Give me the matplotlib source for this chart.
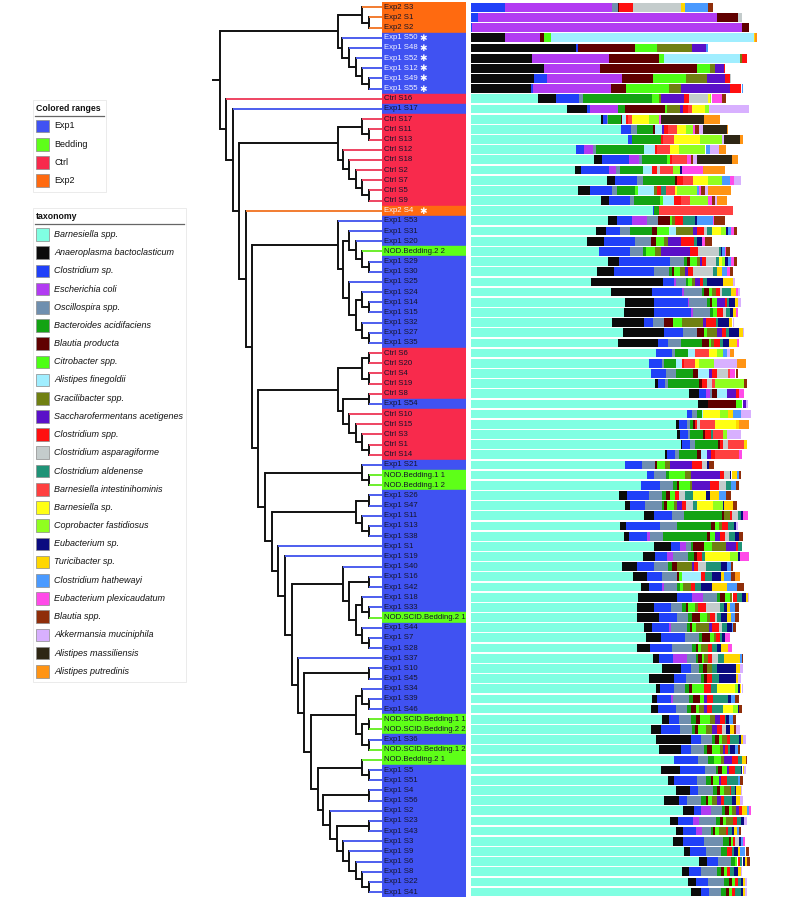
import matplotlib
matplotlib.use("Agg")
import numpy as np
import matplotlib.pyplot as plt
from matplotlib.patches import Rectangle

W, H = 791, 899
plt.rcParams["font.family"] = ["Liberation Sans", "DejaVu Sans"]

# taxa in stacking order (legend order)
taxa_codes = ["bar", "ana", "csp", "eco", "osc", "bac", "bpr", "cit", "afi", "gra", "sac", "cls", "cas",
              "cal", "bin", "bsp", "cop", "eub", "tur", "cha", "epl", "bla", "akk", "ama", "apu"]
taxa_names = ["Barnesiella spp.", "Anaeroplasma bactoclasticum", "Clostridium sp.", "Escherichia coli",
              "Oscillospira spp.", "Bacteroides acidifaciens", "Blautia producta", "Citrobacter spp.",
              "Alistipes finegoldii", "Gracilibacter spp.", "Saccharofermentans acetigenes", "Clostridium spp.",
              "Clostridium asparagiforme", "Clostridium aldenense", "Barnesiella intestinihominis",
              "Barnesiella sp.", "Coprobacter fastidiosus", "Eubacterium sp.", "Turicibacter sp.",
              "Clostridium hathewayi", "Eubacterium plexicaudatum", "Blautia spp.", "Akkermansia muciniphila",
              "Alistipes massiliensis", "Alistipes putredinis"]
taxa_colors = ["#80FFE2", "#0B0B0B", "#2040F8", "#B23BF2", "#6F8FAF", "#13A313", "#600000", "#4DFF14",
               "#A0EEFF", "#708012", "#5A10C8", "#FF1010", "#C4CCCC", "#1F9377", "#FF4040", "#FFFF14",
               "#90FF20", "#0A0A80", "#FFD700", "#4A9AFF", "#FF4AE8", "#8F2E0A", "#D8B0FF", "#2E2614",
               "#FF9414"]

group_names = ["Exp1", "Bedding", "Ctrl", "Exp2"]
group_colors = ["#4052F2", "#5EFF18", "#F82A4C", "#FF6A10"]
branch_colors = ["#4D5EEE", "#6CEE2C", "#EE4462", "#F27C30"]

samples = ["Exp2 S3", "Exp2 S1", "Exp2 S2", "Exp1 S50", "Exp1 S48", "Exp1 S52", "Exp1 S12", "Exp1 S49",
           "Exp1 S55", "Ctrl S16", "Exp1 S17", "Ctrl S17", "Ctrl S11", "Ctrl S13", "Ctrl S12", "Ctrl S18",
           "Ctrl S2", "Ctrl S7", "Ctrl S5", "Ctrl S9", "Exp2 S4", "Exp1 S53", "Exp1 S31", "Exp1 S20",
           "NOD.Bedding.2 2", "Exp1 S29", "Exp1 S30", "Exp1 S25", "Exp1 S24", "Exp1 S14", "Exp1 S15",
           "Exp1 S32", "Exp1 S27", "Exp1 S35", "Ctrl S6", "Ctrl S20", "Ctrl S4", "Ctrl S19", "Ctrl S8",
           "Exp1 S54", "Ctrl S10", "Ctrl S15", "Ctrl S3", "Ctrl S1", "Ctrl S14", "Exp1 S21",
           "NOD.Bedding.1 1", "NOD.Bedding.1 2", "Exp1 S26", "Exp1 S47", "Exp1 S11", "Exp1 S13", "Exp1 S38",
           "Exp1 S1", "Exp1 S19", "Exp1 S40", "Exp1 S16", "Exp1 S42", "Exp1 S18", "Exp1 S33",
           "NOD.SCID.Bedding.2 1", "Exp1 S44", "Exp1 S7", "Exp1 S28", "Exp1 S37", "Exp1 S10", "Exp1 S45",
           "Exp1 S34", "Exp1 S39", "Exp1 S46", "NOD.SCID.Bedding.1 1", "NOD.SCID.Bedding.2 2", "Exp1 S36",
           "NOD.SCID.Bedding.1 2", "NOD.Bedding.2 1", "Exp1 S5", "Exp1 S51", "Exp1 S4", "Exp1 S56", "Exp1 S2",
           "Exp1 S23", "Exp1 S43", "Exp1 S3", "Exp1 S9", "Exp1 S6", "Exp1 S8", "Exp1 S22", "Exp1 S41"]
starred = ["Exp1 S50", "Exp1 S48", "Exp1 S52", "Exp1 S12", "Exp1 S49", "Exp1 S55", "Exp2 S4"]

# abundance per sample, bar axis units (full width ~290 = 100 %)
composition = [
    dict(csp=34, eco=107, osc=6, bpr=1.3, cls=14.3, cas=48, tur=4, cha=22.7, bla=5),
    dict(csp=7.7, eco=239, bpr=21, cas=3.3),
    dict(csp=1.3, eco=270, bpr=7.7),
    dict(ana=34.3, eco=35, bpr=4.3, cit=7.3, afi=202.7, tur=1.3, apu=1.7),
    dict(ana=105.3, csp=2.3, bpr=57.3, cit=21.7, gra=35.3, sac=13.3, cha=2.3),
    dict(ana=61.7, eco=76.7, bpr=50, cit=4.7, afi=76.7, gra=1.3, cls=5),
    dict(ana=73, eco=56.3, bpr=97.3, cit=12.7, gra=5, sac=9.3, cls=1.3),
    dict(ana=63.7, csp=12.3, eco=75, bpr=31, cit=33, gra=21.7, sac=17.7, cls=5, cas=1),
    dict(ana=60.3, csp=1.7, eco=78, bpr=15, cit=43.3, gra=11.7, sac=49.3, cls=11.7, cha=1.3),
    dict(bar=67, ana=18.3, csp=23, osc=4.3, bac=69.3, cit=6.7, gra=2.3, sac=22.7, cls=5, cas=19, bsp=1.7,
         cop=1.7, epl=10.7, bla=4.3),
    dict(bar=96, ana=20.7, csp=2.7, eco=28.3, bac=6.7, bpr=40, cit=2.3, gra=12.7, sac=3.3, cls=4.3, bin=4.7,
         bsp=12.7, cop=4.3, akk=40),
    dict(bar=130.3, ana=2.3, csp=4, osc=1, bac=12.7, bpr=1.3, afi=3.7, cls=2.3, bin=4.3, bsp=16.3, cop=10,
         epl=2.7, ama=42.3, apu=16.7),
    dict(bar=150.3, csp=10, osc=6.3, bac=16, bpr=1.7, afi=6.7, sac=2.7, cls=4, bin=8.3, bsp=9.3, cop=7.3,
         epl=2, bla=3.7, akk=4, ama=24.3, apu=1.3),
    dict(bar=157.7, csp=3.3, bac=29.3, cls=2.3, bin=11, bsp=26.3, cop=21.7, akk=1.7, ama=16, apu=3.7),
    dict(bar=105.3, csp=8.3, eco=9, osc=3.3, bac=47.7, afi=11.3, cls=1.7, bin=12.7, bsp=9, cop=26.7, cha=4.3,
         akk=9.3, apu=6.7),
    dict(bar=123.7, ana=7.7, csp=27, eco=10, osc=3.3, bac=25, cit=2.7, cls=1.7, bin=15, epl=4.3, bla=2.3,
         akk=4, ama=34.3, apu=6),
    dict(bar=104.3, ana=5.7, csp=28.3, eco=7, osc=4, bac=22.7, afi=9.7, cls=5, cas=2.7, bin=12.7, cop=7.3,
         eub=1.7, epl=21.7, apu=21.7),
    dict(bar=136.7, ana=7.7, csp=21.7, osc=6, bac=32.3, bpr=2.3, cls=6, bin=9.3, bsp=15, cop=14, cha=8.3,
         epl=4.3, akk=6.7),
    dict(bar=107, ana=12.3, csp=21.7, osc=5, bac=18.3, cit=3.3, afi=15.7, gra=3.3, cls=4.3, cal=5, bin=9,
         bsp=2, cop=19.7, cha=2, epl=2.3, bla=3.3, akk=3.3, apu=23.3),
    dict(bar=130.3, ana=8.3, csp=20.7, osc=4, bac=26, cit=3.3, afi=11, cls=7.3, bin=9, cop=17.7, epl=4,
         bla=3.3, akk=1.7, apu=10),
    dict(bar=182, csp=1.7, bac=5, bin=74),
    dict(bar=137.7, ana=8.3, csp=15.7, eco=15, osc=10.3, bpr=12.3, cit=2.3, gra=3.3, cls=7.7, cal=11.7,
         eub=1.7, cha=16.7, epl=1, bla=10.7),
    dict(bar=125, ana=10, csp=14.3, osc=10, bac=21.7, bpr=5, cit=12.3, afi=6.7, gra=17.7, sac=3.3, cls=7.3,
         cas=3.3, cal=5, bsp=8.7, cop=5, eub=2.3, cha=3.3, epl=2.7, bla=3.3),
    dict(bar=116.3, ana=17, csp=31, osc=16, bpr=4.7, cit=8.3, gra=3.7, sac=13.3, cls=13, cal=3.3, eub=5,
         epl=3.3, bla=6.7),
    dict(bar=128.3, csp=31, osc=13.3, bac=3.3, cit=8.3, gra=6.7, sac=28.3, cls=8.3, cas=20.7, cal=2, eub=1.3,
         cha=2.7, epl=1.7, bla=3.3),
    dict(bar=137, ana=11.7, csp=50.7, osc=14.3, bac=2.3, bpr=3.3, cit=7.3, gra=2.7, sac=1.7, cls=4, cas=10,
         cal=3.7, bsp=2.3, cop=3.3, eub=2.7, cha=3, epl=3.7, bla=2.3),
    dict(bar=126.7, ana=17, csp=40, osc=14.7, bac=2.7, bpr=2.7, cit=5.7, gra=5, sac=2.7, cls=5, cas=20,
         cal=4, tur=5, cha=5, epl=3.3, bla=2.7),
    dict(bar=120, ana=72.7, csp=11, eco=1.3, osc=10, bac=2.7, cit=3.3, gra=3.3, sac=5, cls=3.3, cal=4,
         eub=16, tur=10, akk=2.3),
    dict(bar=140.3, ana=40.7, csp=30, eco=2.3, osc=17.7, bac=2.7, bpr=5, cit=2.3, gra=4.3, cls=4, cas=2.3,
         cal=9.3, tur=5, epl=1.7, akk=1.7),
    dict(bar=154.3, ana=29, csp=33.7, eco=1.7, osc=18, bac=2.7, bpr=1.7, cit=5, sac=8.3, cls=2.3, cal=2,
         eub=5.7, tur=2.7, akk=3),
    dict(bar=153.7, ana=29.7, csp=37, eco=2.3, osc=16.7, bac=3.3, cit=4, cls=5.3, cas=3.3, cal=4, eub=3.3,
         tur=2.7, epl=2.3),
    dict(bar=141, ana=32.3, csp=8.7, osc=11.3, bpr=8.7, cit=9, gra=21, sac=3.3, cls=10, cal=2.3, eub=10.7,
         tur=3.7, akk=1.7),
    dict(bar=152.7, ana=41, csp=18.3, osc=14.7, bpr=6.7, cit=3.3, gra=9.3, sac=5, cls=4.3, cal=3.3, eub=10,
         tur=4, akk=1),
    dict(bar=147, ana=40, csp=10, osc=13, bac=21, bpr=7.3, cit=2, gra=3, cls=6, cal=2.7, eub=6.7, tur=7.3,
         epl=2.7),
    dict(bar=185, csp=16.7, osc=2.7, bac=12.7, afi=7.3, bin=14.3, bsp=8, cop=6, cha=3.3, akk=3.3, apu=4),
    dict(bar=178.7, csp=12.3, osc=2.3, bac=12, afi=5.7, cls=2.7, bin=10.7, bsp=4.3, cop=15, akk=22.3,
         apu=9.3),
    dict(bar=180, csp=15.3, osc=9.7, bac=17, bpr=5.7, afi=11, sac=3, cls=4.3, cas=11, bin=2.3, epl=5.7,
         bla=2),
    dict(bar=184.3, ana=3.3, csp=6.7, osc=3.3, bac=30.7, bpr=2.7, cls=5.7, cas=5, bin=2.7, cop=29.3, bla=2.3),
    dict(bar=218.7, ana=9.7, csp=7, eco=4, osc=2.3, bpr=5, afi=10, sac=8.7, cls=3, epl=5),
    dict(bar=227.7, ana=9.3, bpr=28.3, cit=6.7, sac=3.3, akk=2.3),
    dict(bar=216, csp=5.7, osc=5, bac=4.3, afi=1.7, bsp=16.7, cop=8.3, tur=5, cha=7.7, akk=10),
    dict(bar=205, ana=3.7, csp=7.3, osc=3.3, bac=3.3, bpr=1.7, cls=1.7, cas=3, bin=15.7, bsp=20.3, tur=3.3,
         apu=10),
    dict(bar=206, ana=3.3, csp=8.3, osc=1.7, bac=13.3, bpr=1.7, cls=5.7, cal=2.7, bin=10, cop=3.3, akk=14.3),
    dict(bar=210, ana=1.7, csp=7.7, osc=5, bac=22.7, bpr=2.3, cls=3.3, cas=4.3, bin=16.7, tur=2.3),
    dict(bar=194.3, ana=2.3, csp=8.3, osc=3.3, bac=18.7, bpr=4, afi=5.7, sac=4.3, cls=4, bin=23.7, epl=3),
    dict(bar=154.3, csp=17.3, osc=12.7, bpr=2.3, cit=7.7, gra=5, sac=21.7, cls=10.7, cas=4.3, eub=2.3,
         bla=5.3),
    dict(bar=176, csp=7.3, osc=12, bac=3.3, cit=15.7, gra=5.7, sac=29.3, cls=4.3, cas=5.7, eub=1.7, tur=5,
         cha=2.3, bla=2),
    dict(bar=170, csp=19.3, osc=13.3, bac=4, bpr=2, cit=11.3, gra=2, sac=18, cls=8.3, cas=7.7, cal=5, cha=5,
         bla=2.7),
    dict(bar=148.7, ana=8, csp=22, osc=13, bac=3.7, bpr=4, cit=5, cls=4, cas=6, cal=7.7, bsp=13.3, eub=4,
         tur=9, cha=6.7, bla=5.3),
    dict(bar=154.3, ana=5, csp=15, osc=16.7, bac=2.7, bpr=3, cit=6.7, gra=3.3, sac=4.3, cls=4, cas=7.7,
         cal=4, bsp=16, cop=9.3, eub=1.3, tur=8.7, bla=4),
    dict(bar=173.3, ana=10.3, csp=18, osc=11.7, bac=37.7, bpr=2.7, gra=5.7, cls=2, cas=5.7, cal=3.3,
         eub=2.3, epl=4.3),
    dict(bar=149.3, ana=6, csp=34, osc=17.3, bac=34.3, bpr=3.3, cit=4.3, gra=3.3, cls=5.7, cal=6, eub=1.7,
         akk=2.3),
    dict(bar=153.3, ana=5, csp=17.7, eco=3.3, osc=12.7, bac=44.7, bpr=2.7, cit=5, sac=5, cls=5, cas=4.3,
         cal=5.7, eub=4, bla=3.7),
    dict(bar=183.7, ana=16.7, csp=9, eco=5.7, osc=5, bac=2, bpr=11.7, cit=8, gra=13.7, sac=9.7, cls=2.7,
         cal=3.3),
    dict(bar=172, ana=12.3, csp=12.3, eco=6, osc=15, bac=6, bpr=3, cls=5, cal=3.3, bsp=25, cop=7.7, eub=2.3,
         epl=8.3),
    dict(bar=151.7, ana=15, csp=16.7, osc=14.3, bac=4, bpr=5, gra=15, sac=1.7, cls=4.3, cas=7.7, cal=15,
         eub=6.3, cha=3.3, bla=2.7),
    dict(bar=162.7, ana=13.3, csp=15.7, osc=14.3, bpr=2.3, cit=2.7, afi=19, cls=4.3, cal=6.7, eub=9, tur=3.7,
         cha=6.3, bla=4.3, apu=5.7),
    dict(bar=170, ana=8.7, csp=12.3, eco=2.3, osc=13.3, bac=2.7, cit=3.3, gra=8.3, cls=4, cal=5.3, eub=11.3,
         tur=15, cha=10, bla=7),
    dict(bar=167, ana=39, csp=15, eco=11, osc=14, bac=3.3, bpr=5, cit=5, gra=2.7, cls=4, cal=5, eub=4.3,
         tur=2.3, akk=1),
    dict(bar=166.7, ana=16.7, csp=17, osc=10.7, bac=4, bpr=2, cit=7.3, gra=3.3, cls=7.3, cas=14.3, cal=4,
         eub=3.3, tur=3.3, cha=4.3, bla=4),
    dict(bar=166, ana=22.3, csp=17.7, osc=11, bac=4, bpr=8.3, cit=7.3, gra=2.7, cls=5, cas=2.3, cal=4.3,
         eub=5.7, tur=4.3, cha=4, bla=3.7),
    dict(bar=173.3, ana=8.3, csp=17, eco=1.7, osc=15.7, bac=3.3, bpr=2.3, cit=3.7, gra=13.3, sac=3, cls=6.7,
         cas=2.7, cal=5.7, eub=4.3, cha=1.7, bla=2.3),
    dict(bar=175, ana=15.3, csp=24, osc=14.3, bac=3.3, bpr=7.3, cit=4.3, gra=1.7, cls=4, cal=2.3, eub=2.7,
         epl=5.7),
    dict(bar=166, ana=13.3, csp=21.7, osc=20, bac=4.3, bpr=1.7, cit=3.3, gra=6.7, cls=4, cal=5.7, eub=3.7,
         tur=7.3, epl=3.3),
    dict(bar=182.7, ana=6, csp=14, eco=13.3, osc=9, bac=2.7, bpr=3.3, cit=2.7, gra=4, cls=3.3, cas=6.7,
         cal=6, tur=15.7, cha=1.7, bla=1.7),
    dict(bar=191.7, ana=18.7, csp=9.7, osc=8.7, bac=3.3, bpr=4.7, gra=4.3, cal=5, eub=19, tur=4.3, akk=2.7),
    dict(bar=178.7, ana=25, csp=11.7, osc=14.7, bac=3.7, bpr=3, cls=5, cal=6.7, eub=17, tur=2.3, akk=2.3),
    dict(bar=185.3, ana=4, csp=14.3, osc=10.7, bac=4, bpr=3.3, cit=12, cls=7.3, cal=5.7, bsp=18.3, cop=2.7,
         eub=1.7, tur=1.7, akk=1.7),
    dict(bar=181, ana=5.7, csp=13.3, eco=2.7, osc=15.7, bac=4.3, bpr=6.7, cit=4.3, sac=2.3, cls=6.7, cal=15,
         eub=2.3, cha=4.3, bla=4.3),
    dict(bar=180, ana=7.7, csp=17.3, osc=11, bac=4, bpr=5, cit=3.7, gra=5, sac=2.3, cls=5, cal=11.7, bsp=10,
         cop=4.3, eub=1.7, bla=2.3),
    dict(bar=191, ana=7.3, csp=10.3, osc=12.3, bac=4.3, bpr=4, cit=10, gra=5, sac=5, cls=5, cal=1.7, eub=2.3,
         cha=4.3, bla=3.3),
    dict(bar=180.3, ana=9.7, csp=19.3, osc=11.7, bac=3.3, bpr=3.3, cit=8.3, gra=5.7, sac=5.3, cls=4.7,
         cas=4.3, eub=3.3, tur=4, bla=2.3, akk=3.7),
    dict(bar=185.3, ana=34.7, csp=10, osc=11.7, bac=2.7, bpr=4, cit=2.7, gra=5, cls=3.3, cal=9, eub=1.7,
         tur=2, akk=3.3),
    dict(bar=188.7, ana=21.7, csp=10, osc=13.3, bac=3, bpr=4.3, cit=8.3, gra=3.3, sac=2.3, cls=2.7, cal=2.3,
         eub=4.3, cha=3.3, bla=2.3),
    dict(bar=203.7, csp=23.3, osc=10, bac=6.3, cit=7, gra=3, sac=8.3, cls=6, cal=4.3, tur=3.3, bla=1.3),
    dict(bar=190.3, ana=19, csp=25, osc=10.7, bac=2, bpr=4.7, cit=4.3, sac=2.3, cls=6, cal=6, eub=1.7,
         tur=1.7, akk=1.3),
    dict(bar=197.7, ana=5.7, csp=23.3, osc=8.7, bac=4.7, bpr=2.7, cit=5.7, sac=2, cls=5.7, cal=11, cha=2.3,
         bla=2.7),
    dict(bar=205, ana=14.3, csp=8.3, osc=15, bac=4.3, bpr=2.3, cit=4.3, gra=5.7, cls=1.7, cal=3.3, eub=1,
         tur=5, akk=1.7),
    dict(bar=193.7, ana=14.7, csp=7.7, osc=14.3, bac=4.7, bpr=2, cit=4.7, gra=4.3, sac=4.3, cls=3, cal=7.7,
         eub=4, tur=4.3, akk=2.7),
    dict(bar=212.7, ana=10.7, csp=7, eco=10, osc=10.7, bac=3.3, bpr=4, cit=2.7, gra=4, sac=3.7, cls=2.3,
         tur=5, cha=2.3, epl=2),
    dict(bar=199.3, ana=7.7, csp=15, eco=6.3, osc=16.7, bac=4.3, bpr=3.3, cit=3.3, gra=6.7, cls=4.3, cal=3.3,
         eub=3, akk=3.7),
    dict(bar=205.3, ana=7.3, csp=12.7, eco=6.3, osc=8.7, bac=2.3, bpr=1.7, cit=4, gra=6.7, cls=2.7, cal=3.3,
         eub=2.7, tur=2.3, cha=2.3, bla=2),
    dict(bar=202.7, ana=10, csp=21, osc=18.3, bac=6.3, bpr=2, cit=2.3, cls=2.3, cas=3.3, eub=2, cha=2.3,
         epl=2.3),
    dict(bar=213.3, ana=6, csp=15.7, osc=15, bac=6.7, cls=5, cal=2, eub=3.3, tur=2.3, cha=5.7, bla=3.7),
    dict(bar=228.7, ana=8, csp=11, osc=12.3, bac=4.3, cit=2.7, cls=2.3, cal=2.7, eub=2.3, tur=2.3, bla=2.7),
    dict(bar=211.7, ana=6.7, csp=12, osc=16.3, bac=3.3, bpr=3.3, cit=2.7, cls=3.3, cal=4, eub=4.3, tur=2.7,
         akk=1.7),
    dict(bar=217.7, ana=7.3, csp=12.7, osc=15.7, bac=5, bpr=2.7, cit=3.3, cls=2.7, cal=3.3, eub=2.3, tur=1.7,
         akk=1.7),
    dict(bar=220, ana=10.3, csp=8.3, osc=12.3, bac=5, bpr=2.7, cit=3.3, cls=3, cal=5.3, eub=2.3, tur=2.3,
         akk=1.7),
]

# dendrogram pieces: (node height, child, child); leaves are sample names
top = (44.7, (20.7, "Exp2 S3", (13.3, "Exp2 S1", "Exp2 S2")),
       (40.7, "Exp1 S50", (33.3, "Exp1 S48", (26.3, "Exp1 S52", (20.7, "Exp1 S12", (13.3, "Exp1 S49", "Exp1 S55"))))))
ctrl1 = (44.7, (20.7, "Ctrl S17", (13.3, "Ctrl S11", "Ctrl S13")),
         (39.7, "Ctrl S12", (33.3, "Ctrl S18", (26.3, "Ctrl S2", (20.7, "Ctrl S7", (13.3, "Ctrl S5", "Ctrl S9"))))))
exp1_a = (44.7, "Exp1 S53",
          (39, (33.3, "Exp1 S31", (26.3, "Exp1 S20", (20.7, "NOD.Bedding.2 2", (13.3, "Exp1 S29", "Exp1 S30")))),
           (33.3, "Exp1 S25", (26.3, (20.7, "Exp1 S24", (13.3, "Exp1 S14", "Exp1 S15")),
                               (20.7, "Exp1 S32", (13.3, "Exp1 S27", "Exp1 S35"))))))
ctrl2 = (44.7, (20.7, (13.3, "Ctrl S6", "Ctrl S20"), (13.3, "Ctrl S4", "Ctrl S19")),
         (39, (13.3, "Ctrl S8", "Exp1 S54"),
          (33.3, "Ctrl S10", (26.3, "Ctrl S15", (20.7, "Ctrl S3", (13.3, "Ctrl S1", "Ctrl S14"))))))
bed1 = (20.7, "Exp1 S21", (13.3, "NOD.Bedding.1 1", "NOD.Bedding.1 2"))
clade5 = (26.3, (13.3, "Exp1 S26", "Exp1 S47"), (20.7, "Exp1 S11", (13.3, "Exp1 S13", "Exp1 S38")))
clade_j = (39.7, "Exp1 S40", (33.3, (13.3, "Exp1 S16", "Exp1 S42"),
                              (26.3, (20.7, "Exp1 S18", (13.3, "Exp1 S33", "NOD.SCID.Bedding.2 1")),
                               (20.7, "Exp1 S44", (13.3, "Exp1 S7", "Exp1 S28")))))
clade_n = (26.3, (20.7, "Exp1 S34", (13.3, "Exp1 S39", "Exp1 S46")),
           (20.7, (13.3, "NOD.SCID.Bedding.1 1", "NOD.SCID.Bedding.2 2"),
            (13.3, "Exp1 S36", "NOD.SCID.Bedding.1 2")))
clade_s = (39.7, "Exp1 S3", (33.3, "Exp1 S9", (26.3, "Exp1 S6", (20.7, "Exp1 S8", (13.3, "Exp1 S22", "Exp1 S41")))))
clade_p = (59, (13.3, "Exp1 S4", "Exp1 S56"), (52.3, "Exp1 S2", (45.7, (13.3, "Exp1 S23", "Exp1 S43"), clade_s)))
clade_o = (64.7, (20.7, "NOD.Bedding.2 1", (13.3, "Exp1 S5", "Exp1 S51")), clade_p)
clade_k = (84.7, "Exp1 S37", (78, (13.3, "Exp1 S10", "Exp1 S45"), (71.3, clade_n, clade_o)))
clade_g = (104, "Exp1 S1", (97.3, "Exp1 S19", (90.7, clade_j, clade_k)))
clade_b = (124, ctrl2, (117.3, bed1, (110, clade5, clade_g)))
tree = (162.3, top,
        (156.3, "Ctrl S16", (149.7, "Exp1 S17", (143, ctrl1, (136.7, "Exp2 S4", (130, exp1_a, clade_b))))))
root_stub = 170


def group_of(name):
    if name.startswith("NOD"):
        return 1
    return group_names.index(name.split()[0])


fig = plt.figure(figsize=(W / 100, H / 100), dpi=100)


def px_axes(x0, x1, y0=2.2, y1=897.2):
    ax = fig.add_axes([x0 / W, 1 - y1 / H, (x1 - x0) / W, (y1 - y0) / H])
    ax.set_ylim(len(samples) - 0.5, -0.5)
    ax.axis("off")
    return ax


row = {s: i for i, s in enumerate(samples)}
groups = [group_of(s) for s in samples]

# ---- tree
ax_t = px_axes(200, 382.3)
ax_t.set_xlim(182.3, 0)


def draw_node(node):
    if isinstance(node, str):
        return row[node], 0.0
    h, a, b = node
    pos = [draw_node(a), draw_node(b)]
    for (yc, hc), c in zip(pos, (a, b)):
        col = branch_colors[group_of(c)] if isinstance(c, str) else "#111111"
        ax_t.plot([h, hc], [yc, yc], color=col, lw=1.4, solid_capstyle="butt", zorder=2)
    ax_t.plot([h, h], [pos[0][0], pos[1][0]], color="#111111", lw=1.4, solid_capstyle="projecting", zorder=1)
    return (pos[0][0] + pos[1][0]) / 2, h


ry, rh = draw_node(tree)
ax_t.plot([root_stub, rh], [ry, ry], color="#111111", lw=1.4, solid_capstyle="butt")

# ---- coloured label ranges
ax_l = px_axes(382.3, 466)
ax_l.set_xlim(0, 83.7)
ax_l.barh(range(len(samples)), 83.7, height=1.0, color=[group_colors[g] for g in groups],
          edgecolor=[group_colors[g] for g in groups], linewidth=0.3)
for i, s in enumerate(samples):
    star = s in starred
    tcol = "#F4F4FF" if star else "#14142A"
    ax_l.text(1.4, i, s, fontsize=5.6, color=tcol, va="center", ha="left")
    if star:
        ax_l.text(41, i + 0.05, "\u2731", fontsize=6.5, color="white", va="center", ha="center",
                  family=["DejaVu Sans"])

# ---- stacked bars
ax_b = px_axes(470.5, 791)
ax_b.set_xlim(0, 320.5)
y = np.arange(len(samples))
left = np.zeros(len(samples))
for code, col in zip(taxa_codes, taxa_colors):
    vals = np.array([c.get(code, 0.0) for c in composition])
    ax_b.barh(y, vals, left=left, height=0.86, color=col, linewidth=0)
    left += vals

# ---- legends (pixel overlay)
ax_o = fig.add_axes([0, 0, 1, 1])
ax_o.set_xlim(0, W)
ax_o.set_ylim(H, 0)
ax_o.axis("off")


def legend_block(x0, y_title, width, labels, colors, italic, box_h):
    ax_o.add_patch(Rectangle((x0 - 3, y_title - 8.5), width + 4, box_h, fill=False, ec="#E8E8E8", lw=0.6))
    ax_o.text(x0, y_title, labels[0], fontsize=6.3, fontweight="bold", va="center", ha="left", color="#111")
    ax_o.plot([x0 - 1, x0 - 1 + width], [y_title + 7.5, y_title + 7.5], color="#666666", lw=0.9)
    for k, (lab, col) in enumerate(zip(labels[1:], colors)):
        yc = y_title + 17.7 + k * 18.2
        ax_o.add_patch(Rectangle((x0, yc - 6.3), 12.7, 12.7, fc=col, ec="#8A8A8A", lw=0.5))
        ax_o.text(x0 + 18.3, yc, lab, fontsize=6.5, va="center", ha="left", color="#111",
                  style="italic" if italic else "normal")


legend_block(36, 108.3, 69, ["Colored ranges"] + group_names, group_colors, False, 92)
legend_block(36, 216.7, 149, ["taxonomy"] + taxa_names, taxa_colors, True, 474)

fig.savefig("out.png", dpi=100)
